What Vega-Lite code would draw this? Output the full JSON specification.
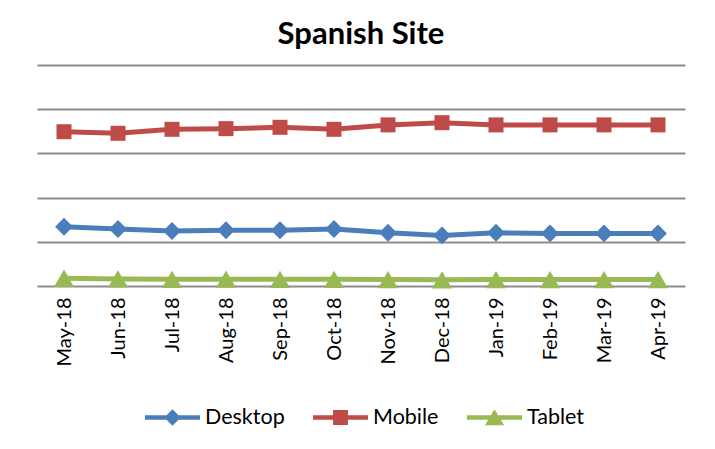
{
  "$schema": "https://vega.github.io/schema/vega-lite/v6.json",
  "autosize": {"type": "none"},
  "width": 648,
  "height": 221,
  "padding": {"left": 37, "top": 65, "right": 30, "bottom": 163},
  "background": "white",
  "title": {"text": "Spanish Site", "font": "Lato", "fontSize": 31, "fontWeight": "bold", "color": "black", "anchor": "middle", "baseline": "alphabetic", "offset": -10},
  "data": {"values": [
    {"month": "May-18", "device": "Desktop", "value": 26.8},
    {"month": "Jun-18", "device": "Desktop", "value": 25.8},
    {"month": "Jul-18", "device": "Desktop", "value": 24.9},
    {"month": "Aug-18", "device": "Desktop", "value": 25.2},
    {"month": "Sep-18", "device": "Desktop", "value": 25.2},
    {"month": "Oct-18", "device": "Desktop", "value": 25.8},
    {"month": "Nov-18", "device": "Desktop", "value": 24.1},
    {"month": "Dec-18", "device": "Desktop", "value": 22.9},
    {"month": "Jan-19", "device": "Desktop", "value": 24.1},
    {"month": "Feb-19", "device": "Desktop", "value": 23.8},
    {"month": "Mar-19", "device": "Desktop", "value": 23.8},
    {"month": "Apr-19", "device": "Desktop", "value": 23.8},
    {"month": "May-18", "device": "Mobile", "value": 69.8},
    {"month": "Jun-18", "device": "Mobile", "value": 69.1},
    {"month": "Jul-18", "device": "Mobile", "value": 70.9},
    {"month": "Aug-18", "device": "Mobile", "value": 71.2},
    {"month": "Sep-18", "device": "Mobile", "value": 71.8},
    {"month": "Oct-18", "device": "Mobile", "value": 70.9},
    {"month": "Nov-18", "device": "Mobile", "value": 72.9},
    {"month": "Dec-18", "device": "Mobile", "value": 73.9},
    {"month": "Jan-19", "device": "Mobile", "value": 72.9},
    {"month": "Feb-19", "device": "Mobile", "value": 72.9},
    {"month": "Mar-19", "device": "Mobile", "value": 72.9},
    {"month": "Apr-19", "device": "Mobile", "value": 72.9},
    {"month": "May-18", "device": "Tablet", "value": 3.5},
    {"month": "Jun-18", "device": "Tablet", "value": 3.2},
    {"month": "Jul-18", "device": "Tablet", "value": 3.0},
    {"month": "Aug-18", "device": "Tablet", "value": 3.1},
    {"month": "Sep-18", "device": "Tablet", "value": 3.0},
    {"month": "Oct-18", "device": "Tablet", "value": 3.0},
    {"month": "Nov-18", "device": "Tablet", "value": 2.9},
    {"month": "Dec-18", "device": "Tablet", "value": 2.8},
    {"month": "Jan-19", "device": "Tablet", "value": 2.9},
    {"month": "Feb-19", "device": "Tablet", "value": 2.9},
    {"month": "Mar-19", "device": "Tablet", "value": 2.9},
    {"month": "Apr-19", "device": "Tablet", "value": 2.9}
  ]},
  "encoding": {
    "x": {
      "field": "month", "type": "ordinal",
      "sort": ["May-18","Jun-18","Jul-18","Aug-18","Sep-18","Oct-18","Nov-18","Dec-18","Jan-19","Feb-19","Mar-19","Apr-19"],
      "scale": {"type": "point", "padding": 0.5},
      "axis": {"title": null, "labelAngle": -90, "labelFont": "Lato", "labelFontSize": 20, "labelColor": "black", "ticks": false, "domain": false, "labelPadding": 11, "grid": false}
    },
    "y": {
      "field": "value", "type": "quantitative",
      "scale": {"domain": [0, 100], "nice": false, "zero": true},
      "axis": {"title": null, "labels": false, "ticks": false, "domain": false, "grid": true, "values": [0, 20, 40, 60, 80, 100], "gridColor": "#8C8C8C", "gridWidth": 2}
    },
    "color": {
      "field": "device", "type": "nominal",
      "scale": {"domain": ["Desktop", "Mobile", "Tablet"], "range": ["#4A7EBB", "#BE4B48", "#98B954"]},
      "legend": {
        "orient": "none", "legendX": 108, "legendY": 325, "direction": "horizontal", "title": null,
        "labelFont": "Lato", "labelFontSize": 21.5, "labelColor": "black", "labelOffset": 5,
        "symbolSize": 3025, "columnPadding": 28, "symbolStrokeWidth": 0, "symbolOpacity": 1
      }
    }
  },
  "layer": [
    {"mark": {"type": "line", "strokeWidth": 5}},
    {
      "mark": {"type": "point", "filled": true, "opacity": 0},
      "encoding": {
        "shape": {
          "field": "device", "type": "nominal",
          "scale": {"domain": ["Desktop", "Mobile", "Tablet"], "range": [
            "M-1,-0.08L1,-0.08L1,0.08L-1,0.08Z M0,-0.3L0.3,0L0,0.3L-0.3,0Z",
            "M-1,-0.08L1,-0.08L1,0.08L-1,0.08Z M-0.27,-0.27L0.27,-0.27L0.27,0.27L-0.27,0.27Z",
            "M-1,-0.08L1,-0.08L1,0.08L-1,0.08Z M0,-0.3L0.35,0.28L-0.35,0.28Z"
          ]},
          "legend": {
            "orient": "none", "legendX": 108, "legendY": 325, "direction": "horizontal", "title": null,
            "labelFont": "Lato", "labelFontSize": 21.5, "labelColor": "black", "labelOffset": 5,
            "symbolSize": 3025, "columnPadding": 28, "symbolStrokeWidth": 0, "symbolOpacity": 1
          }
        }
      }
    },
    {
      "transform": [{"filter": "datum.device === 'Desktop'"}],
      "mark": {"type": "point", "filled": true, "opacity": 1, "shape": "diamond", "size": 320}
    },
    {
      "transform": [{"filter": "datum.device === 'Mobile'"}],
      "mark": {"type": "point", "filled": true, "opacity": 1, "shape": "square", "size": 225}
    },
    {
      "transform": [{"filter": "datum.device === 'Tablet'"}],
      "mark": {"type": "point", "filled": true, "opacity": 1, "shape": "triangle-up", "size": 400}
    }
  ],
  "config": {"view": {"stroke": null}}
}
